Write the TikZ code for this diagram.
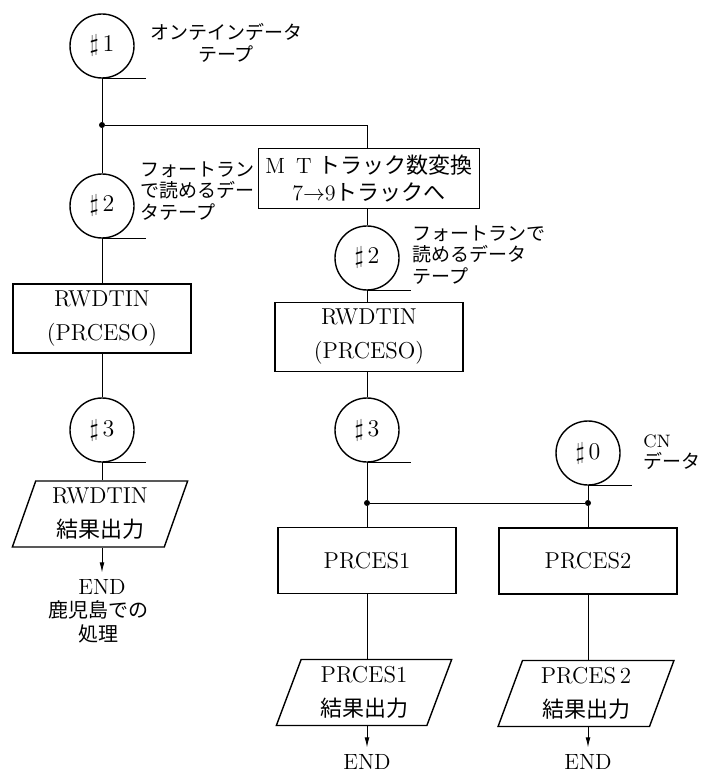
\documentclass[tikz,border=0pt]{standalone}
\usepackage{fontspec}
\newfontfamily\jp{Noto Sans CJK JP}
\usetikzlibrary{arrows.meta,positioning,shapes.geometric}

\begin{document}
\begin{tikzpicture}[
  x=0.5pt, y=-0.5pt,
  line width=0.45pt,
  tape/.style={draw, circle, line width=0.7pt, minimum size=32pt, inner sep=0pt, font=\fontsize{12}{14}\selectfont},
  box/.style={draw, line width=0.7pt, align=center, minimum width=89pt, minimum height=33pt, font=\fontsize{11.5}{17}\selectfont},
  io/.style={draw, trapezium, trapezium left angle=73, trapezium right angle=107, trapezium stretches=true, line width=0.7pt, align=center, minimum width=88pt, minimum height=33pt, font=\fontsize{11.5}{17}\selectfont},
  note/.style={align=left, inner sep=0pt, font=\jp\fontsize{9.5}{10.8}\selectfont},
  endtxt/.style={font=\fontsize{11}{13}\selectfont},
  dot/.style={circle, fill, inner sep=0pt, minimum size=3pt},
  arr/.style={-{Latex[length=5pt,width=2.4pt]}}
]
\useasboundingbox (0,0) rectangle (704,774);

% left column
\node[tape] (tape1) at (102,46) {$\sharp$\,1};
\node[note, align=center] (lab1) at (226,43) {オンテインデータ\\テープ};
\node[dot] (j1) at (102,125) {};
\node[tape] (tape2l) at (102,206) {$\sharp$\,2};
\node[note, anchor=west] (lab2l) at (140,191) {フォートラン\\で読めるデー\\タテープ};
\node[box] (rwdl) at (102,318.5) {RWDTIN\\(PRCESO)};
\node[tape] (tape3l) at (102,430) {$\sharp$\,3};
\node[io] (outl) at (100,514) {RWDTIN\\{\jp\fontsize{11}{17}\selectfont 結果出力}};
\node[endtxt] (endl) at (102,587) {END};
\node[note, align=center, anchor=north, font=\jp\fontsize{10}{12}\selectfont] (kago) at (98,600) {鹿児島での\\処理};

% middle column
\node[box, minimum width=108pt, minimum height=29.5pt, font=\fontsize{11}{13.5}\selectfont] (conv) at (369,178.5)
  {M\enspace T {\jp トラック数変換}\\7$\rightarrow$9{\jp トラックへ}};
\node[tape] (tape2r) at (367,258) {$\sharp$\,2};
\node[note, anchor=west] (lab2r) at (412,255) {フォートランで\\読めるデータ\\テープ};
\node[box, minimum width=94pt] (rwdr) at (369,337) {RWDTIN\\(PRCESO)};
\node[tape] (tape3r) at (367,430) {$\sharp$\,3};
\node[dot] (j2) at (367,503) {};
\node[box] (prc1) at (367,560.5) {PRCES1};
\node[io] (out1) at (364,692.5) {PRCES1\\{\jp\fontsize{11}{17}\selectfont 結果出力}};
\node[endtxt] (end1) at (367,762) {END};

% right column
\node[tape] (tape0) at (588,453) {$\sharp$\,0};
\node[note, anchor=west] (lab0) at (643,452) {{\rmfamily\fontsize{9}{10.8}\selectfont CN}\\データ};
\node[dot] (j3) at (588,503) {};
\node[box] (prc2) at (588,561) {PRCES2};
\node[io] (out2) at (586,693.5) {PRCES\,2\\{\jp\fontsize{11}{17}\selectfont 結果出力}};
\node[endtxt] (end2) at (588,762) {END};

% tape tails
\foreach \t in {tape1,tape2l,tape2r,tape3l,tape3r,tape0}
  \draw[line width=0.7pt] (\t.south) -- ++(22pt,0);

\draw (tape1) -- (j1) -- (tape2l);
\draw (j1) -| (tape2r |- conv.north);
\draw (tape2l) -- (rwdl);
\draw (rwdl) -- (tape3l);
\draw (tape3l) -- (tape3l |- outl.north);
\draw[arr] (tape3l |- outl.south) -- (endl);

\draw (tape2r |- conv.south) -- (tape2r);
\draw (tape2r) -- (tape2r |- rwdr.north);
\draw (tape3r |- rwdr.south) -- (tape3r);
\draw (tape3r) -- (j2) -- (prc1);
\draw (j2) -- (j3);
\draw (tape0) -- (j3) -- (prc2);
\draw (prc1) -- (prc1 |- out1.north);
\draw (prc2) -- (prc2 |- out2.north);
\draw[arr] (prc1 |- out1.south) -- (end1);
\draw[arr] (prc2 |- out2.south) -- (end2);
\end{tikzpicture}
\end{document}
